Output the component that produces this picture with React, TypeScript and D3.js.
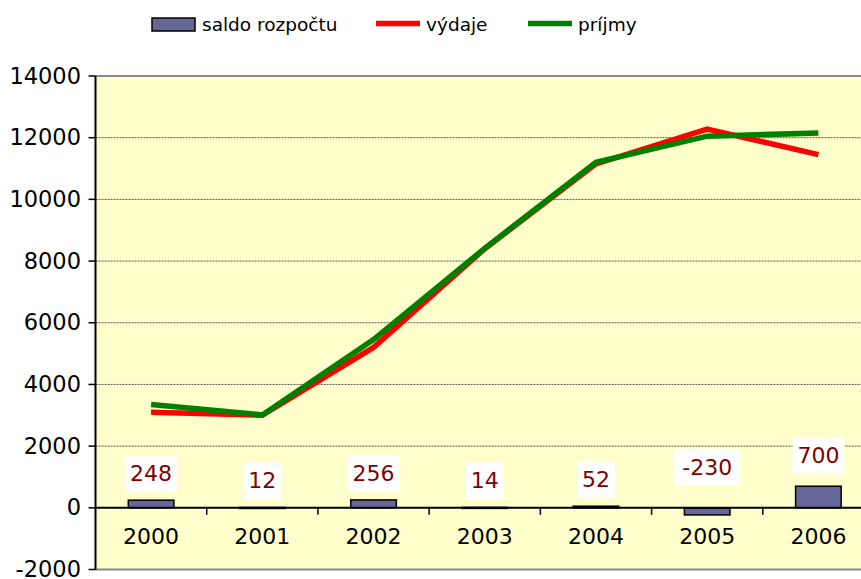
import { scaleBand, scaleLinear, line } from "d3";

const width = 861;
const height = 579;

// rozpočet podle let
const years = ["2000", "2001", "2002", "2003", "2004", "2005", "2006"];
const vydaje = [3100, 3000, 5200, 8400, 11150, 12280, 11450];
const prijmy = [3348, 3012, 5456, 8414, 11202, 12050, 12150];
const saldo = [248, 12, 256, 14, 52, -230, 700];
const yTicks = [-2000, 0, 2000, 4000, 6000, 8000, 10000, 12000, 14000];

const font = "Verdana, 'DejaVu Sans', sans-serif";

const x = scaleBand<string>().domain(years).range([95.5, 874]).padding(0);
const y = scaleLinear().domain([-2000, 14000]).range([569.5, 76]);

const cx = (yr: string) => (x(yr) ?? 0) + x.bandwidth() / 2;

const pathFor = (vals: number[]) =>
  line<number>()
    .x((_, i) => cx(years[i]))
    .y((d) => y(d))(vals) ?? "";

const App = () => {
  const barW = x.bandwidth() * 0.41;
  const left = x.range()[0];
  const right = x.range()[1];

  return (
    <svg
      width={width}
      height={height}
      style={{ position: "absolute", left: 0, top: 0, background: "#fff" }}
      fontFamily={font}
    >
      {/* plot area */}
      <rect x={left} y={y(14000)} width={right - left} height={y(-2000) - y(14000)} fill="#FFFFCC" />
      {yTicks
        .filter((t) => t !== 0 && t !== 14000 && t !== -2000)
        .map((t) => (
          <line key={t} x1={left} x2={right} y1={y(t)} y2={y(t)} stroke="#555" strokeWidth={1} strokeDasharray="2,1" />
        ))}
      <line x1={left} x2={right} y1={y(14000)} y2={y(14000)} stroke="#888" strokeWidth={2} />
      <line x1={left} x2={right} y1={y(-2000)} y2={y(-2000)} stroke="#888" strokeWidth={2} />

      {/* bars */}
      {saldo.map((v, i) => (
        <rect
          key={years[i]}
          x={cx(years[i]) - barW / 2}
          y={y(Math.max(v, 0))}
          width={barW}
          height={Math.max(Math.abs(y(v) - y(0)), 1)}
          fill="#666699"
          stroke="#000"
          strokeWidth={1.5}
        />
      ))}

      {/* lines */}
      <path d={pathFor(vydaje)} fill="none" stroke="#FF0000" strokeWidth={5.5} />
      <path d={pathFor(prijmy)} fill="none" stroke="#008000" strokeWidth={5.5} />

      {/* y axis */}
      <line x1={left} x2={left} y1={y(14000)} y2={y(-2000)} stroke="#000" strokeWidth={2} />
      {yTicks.map((t) => (
        <g key={t}>
          <line x1={left - 7} x2={left} y1={y(t)} y2={y(t)} stroke="#000" strokeWidth={1.5} />
          <text x={81} y={y(t)} dy="0.34em" textAnchor="end" fontSize={22.5} fill="#000">
            {t}
          </text>
        </g>
      ))}

      {/* x axis */}
      <line x1={left} x2={right} y1={y(0)} y2={y(0)} stroke="#000" strokeWidth={2} />
      {years.slice(1).map((yr) => (
        <line key={yr} x1={x(yr)} x2={x(yr)} y1={y(0)} y2={y(0) + 7} stroke="#000" strokeWidth={1.5} />
      ))}
      {years.map((yr) => (
        <text key={yr} x={cx(yr)} y={544} textAnchor="middle" fontSize={22} fill="#000">
          {yr}
        </text>
      ))}

      {/* data labels */}
      {saldo.map((v, i) => {
        const base = y(Math.max(v, 0)) - (v < 0 ? 33 : v > 500 ? 23 : 19);
        const label = String(v);
        const w = label.length * 14 + 10;
        return (
          <g key={"l" + years[i]}>
            <rect x={cx(years[i]) - w / 2} y={base - 26} width={w} height={37} fill="#fff" />
            <text x={cx(years[i])} y={base} textAnchor="middle" fontSize={22} fill="#800000">
              {label}
            </text>
          </g>
        );
      })}

      {/* legend */}
      <rect x={152} y={18} width={43} height={13} fill="#666699" stroke="#000" strokeWidth={1.5} />
      <text x={202} y={31} fontSize={18.5} fill="#000">saldo rozpočtu</text>
      <line x1={376} x2={420} y1={23.5} y2={23.5} stroke="#FF0000" strokeWidth={5.5} />
      <text x={426} y={31} fontSize={18.5} fill="#000">výdaje</text>
      <line x1={528} x2={572} y1={23.5} y2={23.5} stroke="#008000" strokeWidth={5.5} />
      <text x={578} y={31} fontSize={18.5} fill="#000">príjmy</text>
    </svg>
  );
};

export default App;
